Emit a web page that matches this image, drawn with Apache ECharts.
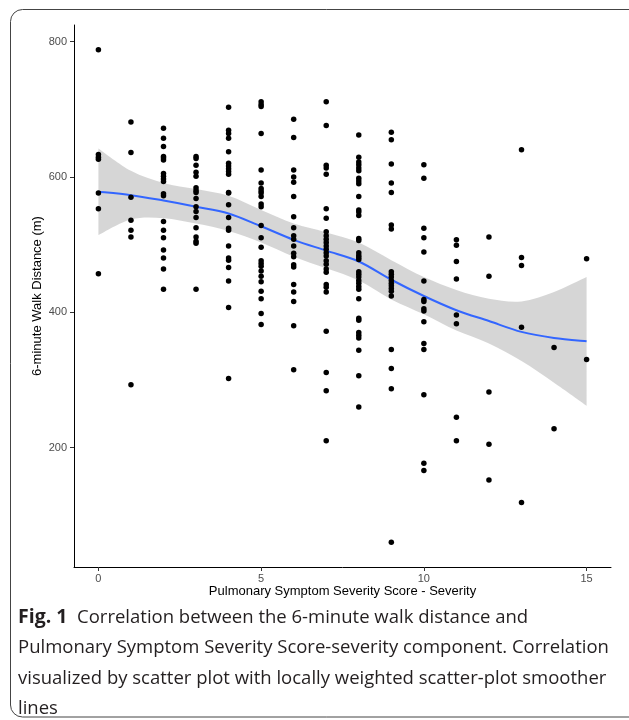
<!DOCTYPE html>
<html>
<head>
<meta charset="utf-8">
<script src="https://cdn.jsdelivr.net/npm/echarts@6/dist/echarts.min.js"></script>
<style>
html,body{margin:0;padding:0;background:#fff;}
#chart{width:629px;height:720px;}
</style>
</head>
<body>
<div id="chart"></div>
<script>
// Pulmonary Symptom Severity Score (x) categories
const scores = [0,1,2,3,4,5,6,7,8,9,10,11,12,13,14,15];
// 6-minute walk distance (m) observed at each score
const walk0 = [788, 633, 629, 626, 576, 553, 457];
const walk1 = [681, 636, 570, 536, 521, 511, 293];
const walk2 = [672, 657, 645, 630, 628, 625, 605, 601, 597, 593, 575, 572, 534, 521, 510, 492, 480, 464, 434];
const walk3 = [630, 627, 617, 607, 601, 584, 580, 577, 568, 556, 549, 540, 525, 511, 505, 502, 434];
const walk4 = [703, 669, 664, 657, 637, 620, 616, 612, 608, 604, 577, 576, 559, 540, 524, 521, 498, 480, 477, 466, 446, 407, 302];
const walk5 = [711, 707, 704, 664, 610, 591, 583, 579, 576, 571, 560, 556, 528, 510, 496, 476, 472, 468, 461, 453, 445, 431, 420, 398, 382];
const walk6 = [685, 658, 610, 600, 592, 571, 541, 525, 513, 508, 498, 487, 482, 470, 467, 441, 430, 416, 380, 315];
const walk7 = [711, 676, 617, 613, 604, 553, 539, 519, 513, 508, 503, 498, 493, 488, 483, 476, 471, 464, 459, 441, 437, 430, 372, 311, 284, 210];
const walk8 = [662, 629, 622, 618, 613, 609, 598, 594, 590, 571, 551, 548, 543, 509, 506, 488, 484, 481, 478, 460, 456, 452, 447, 443, 438, 434, 420, 391, 388, 370, 366, 362, 344, 306, 260];
const walk9 = [666, 655, 619, 591, 577, 529, 523, 460, 456, 452, 447, 443, 439, 435, 431, 424, 345, 317, 287, 60];
const walk10 = [618, 598, 524, 510, 489, 446, 419, 416, 405, 402, 386, 354, 345, 278, 177, 166];
const walk11 = [507, 499, 475, 449, 396, 383, 245, 210];
const walk12 = [511, 453, 282, 205, 152];
const walk13 = [640, 481, 469, 378, 119];
const walk14 = [348, 228];
const walk15 = [479, 330];
const walkByScore = [walk0, walk1, walk2, walk3, walk4, walk5, walk6, walk7, walk8, walk9, walk10, walk11, walk12, walk13, walk14, walk15];

// LOESS smoother (fit and confidence band) read at each score
const smoothFit  = [578, 573, 565, 556, 546, 527, 507, 491, 475, 448, 424, 403, 387, 371, 362, 357];
const smoothLow  = [514, 537, 539, 531, 520, 503, 482, 465, 447, 419, 397, 373, 354, 328, 296, 262];
const smoothHigh = [642, 609, 591, 582, 572, 551, 531, 518, 503, 477, 452, 433, 420, 416, 430, 452];

// axis ticks
const xTicks = [0, 5, 10, 15];
const yTicks = [200, 400, 600, 800];

const points = [];
walkByScore.forEach((arr, i) => arr.forEach(v => points.push([scores[i], v])));
const smoothData = scores.map((s, i) => [s, smoothFit[i], smoothLow[i], smoothHigh[i]]);

// Catmull-Rom spline through pixel points -> SVG path commands
function splinePath(pts, moveFirst) {
  let d = (moveFirst ? 'M' : 'L') + pts[0][0] + ' ' + pts[0][1];
  for (let i = 0; i < pts.length - 1; i++) {
    const p0 = pts[Math.max(i - 1, 0)], p1 = pts[i], p2 = pts[i + 1], p3 = pts[Math.min(i + 2, pts.length - 1)];
    const c1x = p1[0] + (p2[0] - p0[0]) / 6, c1y = p1[1] + (p2[1] - p0[1]) / 6;
    const c2x = p2[0] - (p3[0] - p1[0]) / 6, c2y = p2[1] - (p3[1] - p1[1]) / 6;
    d += ' C' + c1x + ' ' + c1y + ' ' + c2x + ' ' + c2y + ' ' + p2[0] + ' ' + p2[1];
  }
  return d;
}

const axisFont = 'Liberation Sans, Arial, sans-serif';
const capFont = 'Open Sans, Noto Sans, sans-serif';

const chart = echarts.init(document.getElementById('chart'), null, {renderer: 'canvas'});
chart.setOption({
  animation: false,
  backgroundColor: '#ffffff',
  grid: {left: 74, top: 25, right: 18, bottom: 153, outerBoundsMode: 'none', containLabel: false},
  title: {
    left: 18, top: 602, padding: 0,
    text: '{b|Fig. 1}  Correlation between the 6-minute walk distance and\nPulmonary Symptom Severity Score-severity component. Correlation\nvisualized by scatter plot with locally weighted scatter-plot smoother\nlines',
    textStyle: {
      fontFamily: capFont, fontSize: 18.5, fontWeight: 'normal', color: '#231f20', lineHeight: 30.5,
      rich: { b: {fontFamily: capFont, fontSize: 19.5, fontWeight: 'bold', color: '#231f20', lineHeight: 30.5} }
    }
  },
  graphic: [{
    type: 'rect', silent: true, z: 100,
    shape: {x: 10.5, y: 9.5, width: 640, height: 707.5, r: 12},
    style: {fill: 'none', stroke: '#444', lineWidth: 1}
  }],
  xAxis: {
    type: 'value', min: -0.75, max: 15.75,
    name: 'Pulmonary Symptom Severity Score - Severity',
    nameLocation: 'middle', nameGap: 18, nameMoveOverlap: false,
    nameTextStyle: {fontFamily: axisFont, fontSize: 13, color: '#000'},
    axisLine: {show: true, onZero: false, lineStyle: {color: '#000', width: 1}},
    axisTick: {show: true, length: 4, customValues: xTicks, lineStyle: {color: '#333'}},
    axisLabel: {customValues: xTicks, margin: 6, fontFamily: axisFont, fontSize: 11, color: '#4d4d4d'},
    splitLine: {show: false}
  },
  yAxis: {
    type: 'value', min: 23.6, max: 824.4,
    name: '6-minute Walk Distance (m)',
    nameLocation: 'middle', nameGap: 30, nameRotate: 90, nameMoveOverlap: false,
    nameTextStyle: {fontFamily: axisFont, fontSize: 13, color: '#000'},
    axisLine: {show: true, onZero: false, lineStyle: {color: '#000', width: 1}},
    axisTick: {show: true, length: 4, customValues: yTicks, lineStyle: {color: '#333'}},
    axisLabel: {customValues: yTicks, margin: 7, fontFamily: axisFont, fontSize: 11, color: '#4d4d4d'},
    splitLine: {show: false}
  },
  series: [
    {
      type: 'scatter', data: points, symbolSize: 5.5,
      itemStyle: {color: '#000', opacity: 1}
    },
    {
      type: 'custom', data: smoothData, silent: true,
      encode: {x: 0, y: [1, 2, 3]},
      renderItem: function (params, api) {
        if (params.dataIndex !== 0) return null;
        const up = [], lo = [], fit = [];
        for (let i = 0; i < scores.length; i++) {
          up.push(api.coord([scores[i], smoothHigh[i]]));
          lo.push(api.coord([scores[i], smoothLow[i]]));
          fit.push(api.coord([scores[i], smoothFit[i]]));
        }
        const bandPath = splinePath(up, true) + ' ' + splinePath(lo.slice().reverse(), false) + ' Z';
        const fitPath = splinePath(fit, true);
        return {
          type: 'group',
          children: [
            {type: 'path', shape: {pathData: bandPath}, style: {fill: 'rgba(153,153,153,0.4)', stroke: null}},
            {type: 'path', shape: {pathData: fitPath}, style: {fill: null, stroke: '#3366ff', lineWidth: 2}}
          ]
        };
      }
    }
  ]
});
</script>
</body>
</html>
